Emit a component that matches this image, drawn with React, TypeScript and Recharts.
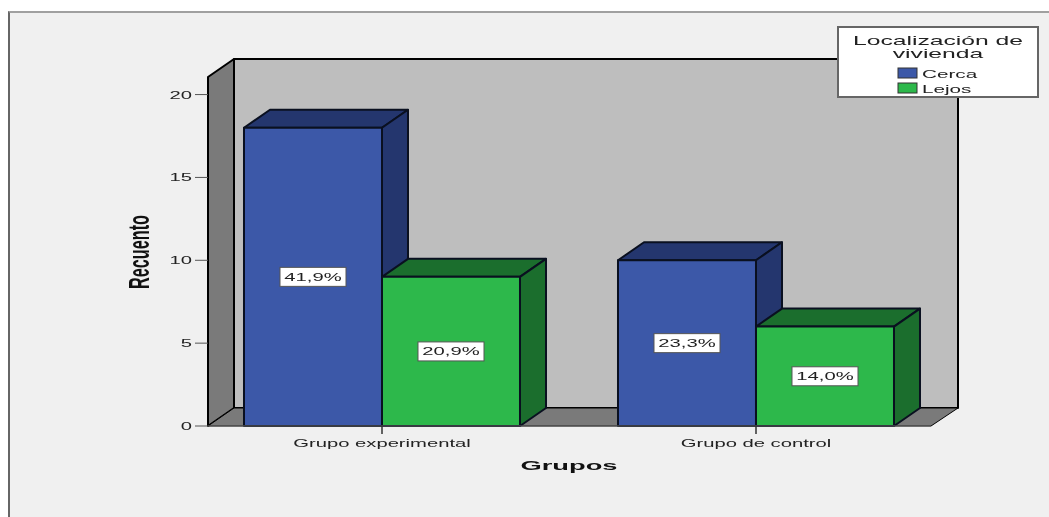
import { Bar, BarChart, XAxis, YAxis, Legend, LabelList, Label } from 'recharts';

const categories = ['Grupo experimental', 'Grupo de control'];
const cerca = [18, 10];
const lejos = [9, 6];
const cercaPct = ['41,9%', '23,3%'];
const lejosPct = ['20,9%', '14,0%'];
const yTicks = [0, 5, 10, 15, 20];

const data = categories.map((name, i) => ({ name, Cerca: cerca[i], Lejos: lejos[i] }));

const W = 1049;
const H = 517;
const LEFT = 208;
const RIGHT = 931;
const TOP = 78;
const WALL_TOP = 77;
const BOTTOM = 426;
const DX = 26;
const DY = 18;
const Y_AXIS_W = 100;
const X_AXIS_H = 60;
const BLUE = '#3c58a8';
const BLUE_DARK = '#24366e';
const GREEN = '#2db84b';
const GREEN_DARK = '#1b6e2d';
const FONT = '"Liberation Sans", Arial, sans-serif';

// the original text is stretched sideways, so scale it instead of spacing it
const WideText = ({ x, y, text, size = 11, sx = 1.84, anchor = 'middle', bold = false, fill = '#222' }: any) => (
    <text
        transform={`translate(${x},${y}) scale(${sx},1)`}
        textAnchor={anchor}
        fontFamily={FONT}
        fontSize={size}
        fontWeight={bold ? 700 : 400}
        fill={fill}
    >
        {text}
    </text>
);

const Walls = () => (
    <g stroke="#000" strokeWidth={2} strokeLinejoin="round">
        <polygon points={`${LEFT + DX},${WALL_TOP - DY} 958,${WALL_TOP - DY} 958,${BOTTOM - DY} ${LEFT + DX},${BOTTOM - DY}`} fill="#bebebe" />
        <polygon points={`${LEFT},${WALL_TOP} ${LEFT + DX},${WALL_TOP - DY} ${LEFT + DX},${BOTTOM - DY} ${LEFT},${BOTTOM}`} fill="#7a7a7a" />
        <polygon points={`${LEFT},${BOTTOM} ${LEFT + DX},${BOTTOM - DY} 958,${BOTTOM - DY} ${RIGHT},${BOTTOM}`} fill="#7a7a7a" strokeWidth={1} />
    </g>
);

const Box3D = ({ x, y, width, height, fill, dark }: any) => (
    <g stroke="#0a1020" strokeWidth={2} strokeLinejoin="round">
        <polygon points={`${x},${y} ${x + DX},${y - DY} ${x + width + DX},${y - DY} ${x + width},${y}`} fill={dark} />
        <polygon points={`${x + width},${y} ${x + width + DX},${y - DY} ${x + width + DX},${y + height - DY} ${x + width},${y + height}`} fill={dark} />
        <rect x={x} y={y} width={width} height={height} fill={fill} />
    </g>
);

const PctLabel = (pcts: string[]) => ({ x, y, width, height, index }: any) => {
    const cx = x + width / 2;
    const cy = y + height / 2;
    return (
        <g>
            <rect x={cx - 33} y={cy - 9.5} width={66} height={19} fill="#fff" stroke="#555" strokeWidth={1} />
            <WideText x={cx} y={cy + 4} text={pcts[index]} />
        </g>
    );
};

const XTick = ({ x, y, payload }: any) => <WideText x={x} y={y + 11} text={payload.value} />;
const YTick = ({ y, payload }: any) => <WideText x={192} y={y + 4} text={payload.value} anchor="end" />;

const LegendBox = ({ payload }: any) => (
    <svg width={202} height={72} style={{ display: 'block' }}>
        <rect x={1} y={1} width={200} height={70} fill="#fff" stroke="#666" strokeWidth={2} />
        <WideText x={101} y={19} text="Localización de" size={13} sx={1.9} />
        <WideText x={101} y={32} text="vivienda" size={13} sx={1.9} />
        {(payload || []).map((p: any, i: number) => (
            <g key={p.value}>
                <rect x={61} y={42 + i * 15} width={19} height={10} fill={p.color} stroke="#333" strokeWidth={1} />
                <WideText x={85} y={52 + i * 15} text={p.value} size={11.5} sx={1.8} anchor="start" />
            </g>
        ))}
    </svg>
);

const App = () => {
    return (
        <div style={{ position: 'absolute', left: 0, top: 0, width: W, height: H, background: '#fff', overflow: 'hidden' }}>
            <div
                style={{
                    position: 'absolute', left: 8, top: 11, width: W, height: H,
                    background: '#f0f0f0', borderTop: '2px solid #a0a0a0', borderLeft: '2px solid #666',
                }}
            />
            <div style={{ position: 'absolute', left: 0, top: 0, filter: 'blur(0.5px)' }}>
                <BarChart
                    width={W}
                    height={H}
                    data={data}
                    margin={{ left: LEFT - Y_AXIS_W, right: W - RIGHT, top: TOP, bottom: H - BOTTOM - X_AXIS_H }}
                    barCategoryGap="13.1%"
                    barGap={0}
                >
                    <Walls />
                    <XAxis
                        dataKey="name"
                        padding={{ left: -13, right: -12 }}
                        tick={<XTick />}
                        tickSize={8}
                        tickLine={{ stroke: '#333', strokeWidth: 1.5 }}
                        axisLine={{ stroke: '#666', strokeWidth: 1 }}
                        height={X_AXIS_H}
                        interval={0}
                    >
                        <Label content={() => <WideText x={569} y={470} text="Grupos" size={13} sx={2.1} bold fill="#111" />} />
                    </XAxis>
                    <YAxis
                        domain={[0, 21]}
                        ticks={yTicks}
                        tick={<YTick />}
                        tickSize={13}
                        tickLine={{ stroke: '#555', strokeWidth: 1 }}
                        axisLine={false}
                        width={Y_AXIS_W}
                    >
                        <Label
                            content={() => (
                                <text
                                    transform="translate(149,252) rotate(-90) scale(0.56,1)"
                                    textAnchor="middle"
                                    fontFamily={FONT}
                                    fontSize={29}
                                    fontWeight={700}
                                    fill="#111"
                                >
                                    Recuento
                                </text>
                            )}
                        />
                    </YAxis>
                    {/* middle + center keeps the legend from eating plot height */}
                    <Legend
                        layout="horizontal"
                        verticalAlign="middle"
                        align="center"
                        content={<LegendBox />}
                        wrapperStyle={{ position: 'absolute', left: 837, top: 26, width: 202, height: 72 }}
                    />
                    <Bar dataKey="Cerca" fill={BLUE} isAnimationActive={false} shape={(p: any) => <Box3D {...p} dark={BLUE_DARK} />}>
                        <LabelList content={PctLabel(cercaPct)} />
                    </Bar>
                    <Bar dataKey="Lejos" fill={GREEN} isAnimationActive={false} shape={(p: any) => <Box3D {...p} dark={GREEN_DARK} />}>
                        <LabelList content={PctLabel(lejosPct)} />
                    </Bar>
                </BarChart>
            </div>
        </div>
    );
};

export default App;
